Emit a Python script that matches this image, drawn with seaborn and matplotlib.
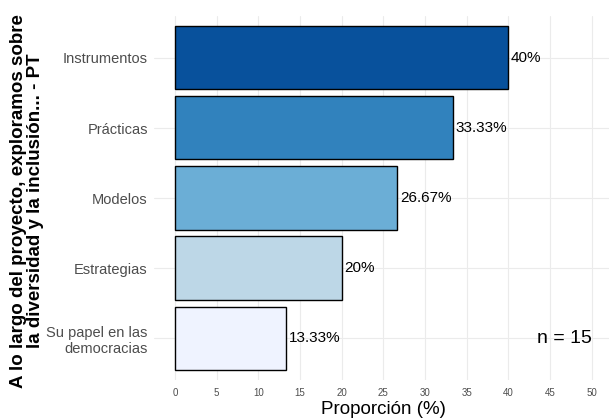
import matplotlib
matplotlib.use("Agg")
import matplotlib.pyplot as plt
import seaborn as sns
import pandas as pd

categories = ["Instrumentos", "Prácticas", "Modelos", "Estrategias", "Su papel en las\ndemocracias"]
values = [40.0, 33.33, 26.67, 20.0, 13.33]
labels = ["40%", "33.33%", "26.67%", "20%", "13.33%"]
colors = ["#08519c", "#3182bd", "#6baed6", "#bdd7e7", "#eff3ff"]
xticks = [0, 5, 10, 15, 20, 25, 30, 35, 40, 45, 50]
n_text = "n = 15"

sns.set_theme(style="whitegrid")
plt.rcParams["font.family"] = ["Liberation Sans", "DejaVu Sans"]

df = pd.DataFrame({"cat": categories, "val": values})

W, H = 609, 419
fig = plt.figure(figsize=(W / 100, H / 100), dpi=100)
left_px, right_px = 154.0, 612.7
top_px, bot_px = 16.0, 380.0
ax = fig.add_axes([left_px / W, 1 - bot_px / H, (right_px - left_px) / W, (bot_px - top_px) / H])

sns.barplot(data=df, y="cat", x="val", hue="cat", palette=colors, order=categories,
            hue_order=categories, width=0.9, edgecolor="black", linewidth=1.0,
            saturation=1, legend=False, ax=ax, orient="h")

for i, (v, lab) in enumerate(zip(values, labels)):
    ax.text(v + 0.3, i, lab, va="center", ha="left", fontsize=11, color="black")

ax.text(50, 4, n_text, ha="right", va="center", fontsize=14, color="black")

ax.set_xlim(-2.5, 52.5)
ax.set_ylim(4.6, -0.6)
ax.set_xticks(xticks)
ax.set_xticklabels([str(t) for t in xticks], fontsize=7, color="#4d4d4d")
ax.tick_params(axis="y", labelsize=10.5, labelcolor="#4d4d4d", length=0, pad=4.5)
ax.tick_params(axis="x", length=0, pad=6)
for lbl in ax.get_yticklabels():
    lbl.set_horizontalalignment("right")
    lbl.set_multialignment("right")

ax.grid(True, axis="both", color="#ebebeb", linewidth=0.8)
ax.set_axisbelow(True)
for s in ax.spines.values():
    s.set_visible(False)

ax.set_xlabel("Proporción (%)", fontsize=13.5, color="black", labelpad=2)
ax.set_ylabel("")
fig.text(27 / W, 1 - 201 / H,
         "A lo largo del proyecto, exploramos sobre\nla diversidad y la inclusión... - PT",
         rotation=90, ha="center", va="center", multialignment="center",
         fontsize=13.5, fontweight="bold", color="black", linespacing=1.05)

fig.savefig("out.png", dpi=100, facecolor="white")
